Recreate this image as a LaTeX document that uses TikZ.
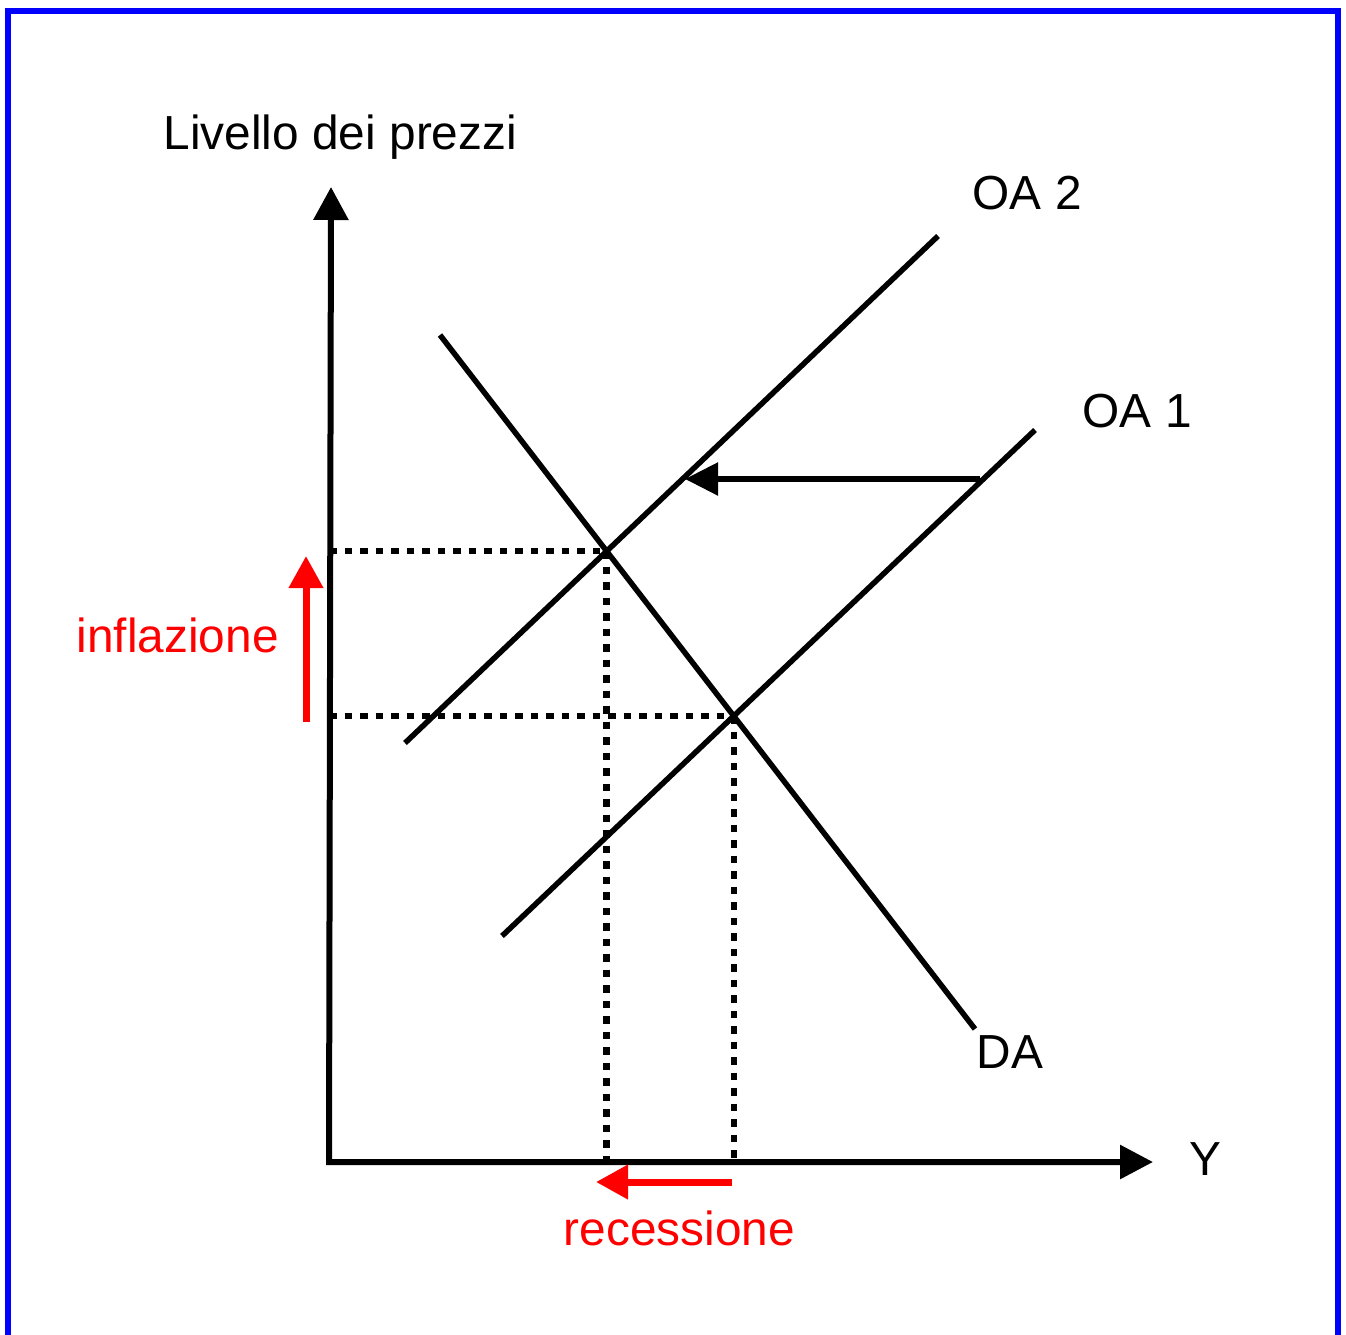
\documentclass[tikz,border=0pt]{standalone}
\usepackage{fontspec}
\setmainfont{Liberation Sans}
\usetikzlibrary{arrows.meta, positioning}

\begin{document}
\begin{tikzpicture}[
  axis/.style={line width=0.06cm, {Triangle[length=0.33cm, width=0.34cm]}-{Triangle[length=0.33cm, width=0.33cm]}},
  curve/.style={line width=0.055cm},
  guide/.style={line width=0.065cm, dash pattern=on 0.075cm off 0.08cm},
  supplyshift/.style={line width=0.055cm, -{Triangle[length=0.33cm, width=0.32cm]}},
  move/.style={line width=0.07cm, red, -{Triangle[length=0.32cm, width=0.33cm]}},
  lbl/.style={font=\fontsize{13.6}{16}\selectfont, inner sep=0pt, anchor=base west},
  redlbl/.style={lbl, text=red}
]

% frame
\useasboundingbox (0,0) rectangle (13.46,-13.34);
\clip (0,0) rectangle (13.46,-13.34);
\draw[blue, line width=0.06cm] (0.08,-0.11) rectangle (13.38,-13.8);

% axes
\coordinate (O) at (3.29,-11.62);
\coordinate (ytop) at (3.31,-1.87);
\coordinate (xend) at (11.53,-11.62);
\draw[axis] (ytop) -- (O) -- (xend);

% curves
\coordinate (oa2a) at (4.05,-7.43);
\coordinate (oa2b) at (9.38,-2.36);
\coordinate (oa1a) at (5.02,-9.36);
\coordinate (oa1b) at (10.35,-4.30);
\coordinate (da1) at (4.40,-3.35);
\coordinate (da2) at (9.75,-10.29);
\draw[curve] (oa2a) -- (oa2b);
\draw[curve] (oa1a) -- (oa1b);
\draw[curve] (da1) -- (da2);

% equilibria
\coordinate (E2) at (intersection of da1--da2 and oa2a--oa2b);
\coordinate (E1) at (intersection of da1--da2 and oa1a--oa1b);
\draw[guide] (E2 -| O) -- (E2);
\draw[guide] (E1 -| O) -- (E1);
\draw[guide] (E2) -- (E2 |- O);
\draw[guide] (E1) -- (E1 |- O);

% shift of supply
\coordinate (s1) at (9.80,-4.79);
\coordinate (s2) at (6.85,-4.79);
\draw[supplyshift] (s1) -- (s2);

% red arrows
\coordinate (inf0) at (3.06,-7.22);
\coordinate (inf1) at (3.06,-5.56);
\coordinate (rec0) at (7.32,-11.82);
\coordinate (rec1) at (5.96,-11.82);
\draw[move] (inf0) -- (inf1);
\draw[move] (rec0) -- (rec1);

% labels
\node[lbl] (ylabel) at (1.63,-1.49) {Livello dei prezzi};
\node[lbl] (xlabel) at (11.89,-11.75) {Y};
\node[lbl] (oa2lbl) at (9.72,-2.10) {OA 2};
\node[lbl] (oa1lbl) at (10.82,-4.27) {OA 1};
\node[lbl] (dalbl) at (9.76,-10.68) {DA};
\node[redlbl] (inflbl) at (0.76,-6.52) {inflazione};
\node[redlbl] (reclbl) at (5.63,-12.45) {recessione};

\end{tikzpicture}
\end{document}
